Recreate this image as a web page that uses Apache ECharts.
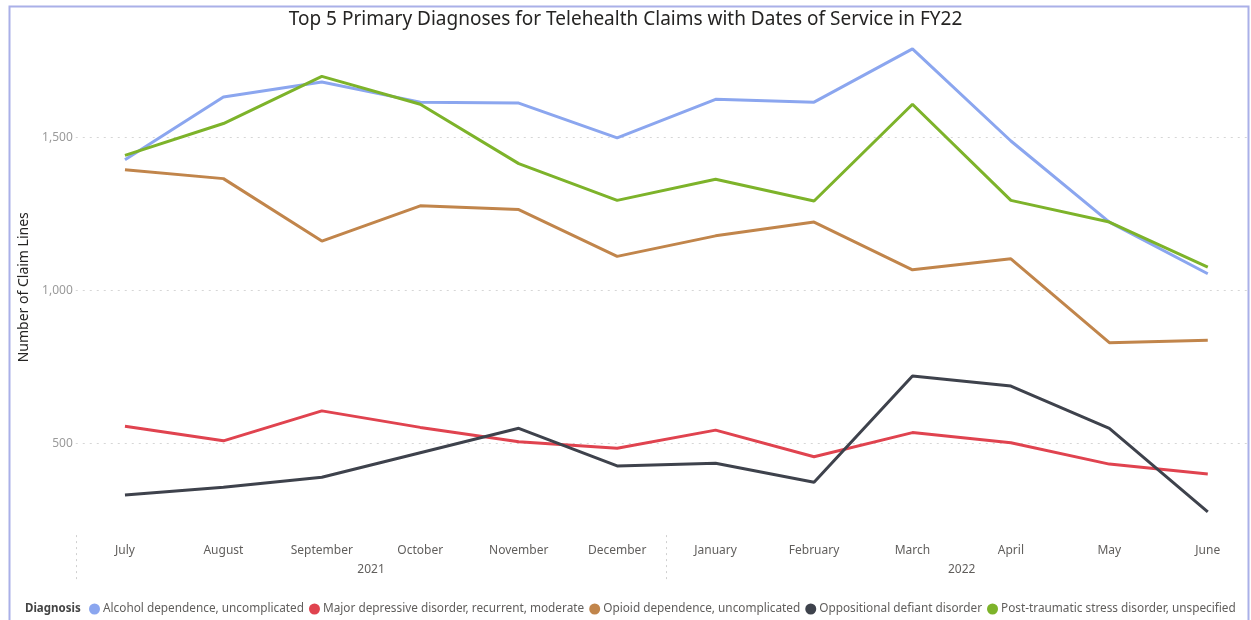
<!DOCTYPE html>
<html>
<head>
    <meta charset="utf-8">
    <title>Telehealth Claims FY22</title>
    <script src="https://cdn.jsdelivr.net/npm/echarts@6.0.0/dist/echarts.min.js"></script>
    <style>
        body { margin: 0; background: #fff; }
        #main { width: 1251px; height: 620px; }
    </style>
</head>
<body>
<div id="main"></div>
<script type="text/javascript">
    // months of FY22 and the year groups under them
    var months = ['July', 'August', 'September', 'October', 'November', 'December',
        'January', 'February', 'March', 'April', 'May', 'June'];
    var years = ['2021', '2022'];
    var yTicks = [500, 1000, 1500];

    // number of claim lines per diagnosis
    var alcohol = [1427, 1632, 1681, 1615, 1612, 1498, 1624, 1615, 1789, 1488, 1223, 1054];
    var depressive = [556, 508, 606, 552, 505, 484, 543, 456, 535, 502, 432, 400];
    var opioid = [1394, 1365, 1161, 1276, 1264, 1111, 1178, 1223, 1067, 1103, 829, 837];
    var oppositional = [331, 356, 389, 469, 549, 426, 435, 373, 720, 687, 549, 276];
    var ptsd = [1441, 1545, 1699, 1608, 1414, 1294, 1363, 1292, 1608, 1294, 1223, 1076];

    var names = ['Alcohol dependence, uncomplicated', 'Major depressive disorder, recurrent, moderate',
        'Opioid dependence, uncomplicated', 'Oppositional defiant disorder', 'Post-traumatic stress disorder, unspecified'];
    var colors = ['#8BA6EF', '#E0434F', '#C1854B', '#3E424C', '#7DB32A'];
    var values = [alcohol, depressive, opioid, oppositional, ptsd];

    var font = 'Noto Sans';
    var series = [];
    for (var i = 0; i < names.length; i++) {
        series.push({
            name: names[i],
            type: 'line',
            data: values[i],
            showSymbol: false,
            symbol: 'circle',
            lineStyle: {width: 3, color: colors[i]},
            itemStyle: {color: colors[i]},
            animation: false
        });
    }

    var myChart = echarts.init(document.getElementById('main'));
    var option = {
        textStyle: {fontFamily: font},
        title: [{
            text: 'Top 5 Primary Diagnoses for Telehealth Claims with Dates of Service in FY22',
            left: 'center',
            top: 5,
            textStyle: {fontSize: 19, fontWeight: 'normal', color: '#252423', fontFamily: font}
        }, {
            text: 'Diagnosis',
            left: 20,
            top: 598,
            textStyle: {fontSize: 11.5, fontWeight: 'bold', color: '#444', fontFamily: font}
        }],
        legend: {
            left: 84,
            top: 598,
            width: 1166,
            icon: 'circle',
            itemWidth: 11,
            itemHeight: 11,
            itemGap: 5,
            textStyle: {fontSize: 11.8, color: '#605E5C', fontFamily: font, padding: [0, 0, 0, -2]},
            data: names
        },
        graphic: [{
            type: 'rect',
            left: 7,
            top: 4,
            shape: {width: 1239, height: 630},
            style: {fill: 'none', stroke: '#AAB0E8', lineWidth: 2},
            silent: true
        }],
        grid: {
            left: 75.75,
            right: -6,
            top: 39.4,
            bottom: 84.9,
            outerBoundsMode: 'none'
        },
        xAxis: [{
            type: 'category',
            data: months,
            boundaryGap: true,
            axisLine: {show: false},
            axisTick: {show: false},
            axisLabel: {margin: 9, fontSize: 12, color: '#605E5C'}
        }, {
            type: 'category',
            data: years,
            position: 'bottom',
            boundaryGap: true,
            axisLine: {show: false},
            axisTick: {show: true, length: 48, lineStyle: {color: '#D0D0D0', type: [2, 4]}},
            axisLabel: {margin: 28, fontSize: 12, color: '#605E5C'}
        }],
        yAxis: {
            type: 'value',
            min: 200,
            max: 1820,
            name: 'Number of Claim Lines',
            nameLocation: 'middle',
            nameGap: 42,
            nameTextStyle: {fontSize: 14, color: '#252423'},
            axisLine: {show: false},
            axisTick: {show: false, customValues: yTicks},
            axisLabel: {margin: 3, fontSize: 12, color: '#9A9A9A', customValues: yTicks},
            splitLine: {lineStyle: {color: '#D6D6D6', type: [2, 5]}}
        },
        series: series
    };
    myChart.setOption(option);
</script>
</body>
</html>
